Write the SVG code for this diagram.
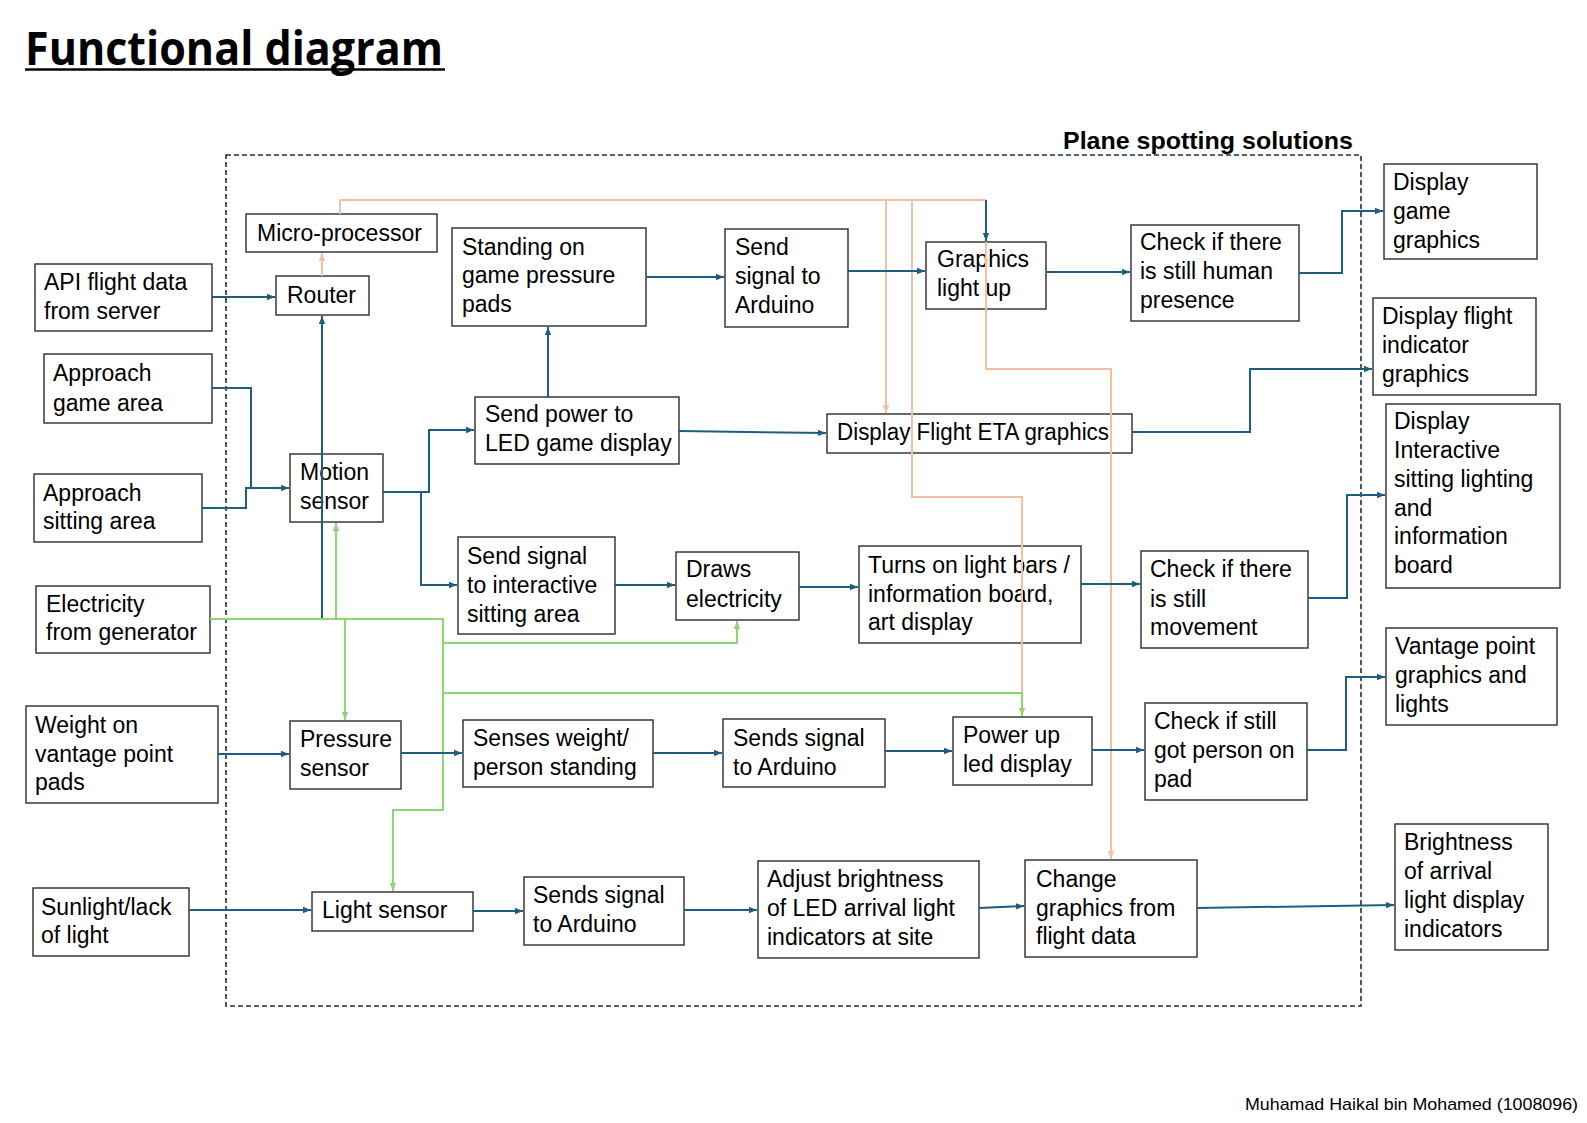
<svg xmlns="http://www.w3.org/2000/svg" width="1587" height="1123" viewBox="0 0 1587 1123">
<style>
.bg{fill:#ffffff}
.box{fill:#ffffff;stroke:#2b2b2b;stroke-width:1.4}
.t{font-family:"Liberation Sans",Arial,sans-serif;font-size:23px;fill:#000000}
.frame{fill:none;stroke:#16324a;stroke-width:1.6;stroke-dasharray:5 3}
.b{fill:none;stroke:#1d5e80;stroke-width:2}
.o{fill:none;stroke:#f5bfa3;stroke-width:2}
.g{fill:none;stroke:#8ed673;stroke-width:2}
.title{font-family:"Open Sans","Liberation Sans",sans-serif;font-weight:bold;font-size:46px;fill:#000}
.sub{font-family:"Liberation Sans",Arial,sans-serif;font-weight:bold;font-size:24px;fill:#000}
.foot{font-family:"Liberation Sans",Arial,sans-serif;font-size:17px;fill:#000}
</style>
<defs>
<marker id="ab" viewBox="0 0 10 10" refX="10" refY="5" markerUnits="userSpaceOnUse" markerWidth="9" markerHeight="8" orient="auto"><path d="M0,1 L10,5 L0,9 z" fill="#1d5e80"/></marker>
<marker id="ao" viewBox="0 0 10 10" refX="10" refY="5" markerUnits="userSpaceOnUse" markerWidth="9" markerHeight="8" orient="auto"><path d="M0,1 L10,5 L0,9 z" fill="#f5bfa3"/></marker>
<marker id="ag" viewBox="0 0 10 10" refX="10" refY="5" markerUnits="userSpaceOnUse" markerWidth="9" markerHeight="8" orient="auto"><path d="M0,1 L10,5 L0,9 z" fill="#8ed673"/></marker>
</defs>
<rect class="bg" x="0" y="0" width="1587" height="1123"/>

<g id="title">
<text class="title" x="25" y="65" textLength="418" lengthAdjust="spacingAndGlyphs">Functional diagram</text>
<line x1="25" y1="69.5" x2="445" y2="69.5" stroke="#000" stroke-width="2.5"/>
</g>

<g id="system-boundary">
<rect class="frame" x="226" y="155" width="1135" height="851"/>
<text class="sub" x="1063" y="149" textLength="290" lengthAdjust="spacingAndGlyphs">Plane spotting solutions</text>
</g>

<g id="nodes">
<g id="n-micro"><rect class="box" x="246" y="214" width="191" height="38"/><text class="t" x="257" y="241">Micro-processor</text></g>
<g id="n-router"><rect class="box" x="276" y="276" width="93" height="39"/><text class="t" x="287" y="303">Router</text></g>
<g id="n-api"><rect class="box" x="35" y="264" width="177" height="67"/><text class="t" x="44" y="290">API flight data</text><text class="t" x="44" y="319">from server</text></g>
<g id="n-game-area"><rect class="box" x="44" y="354" width="168" height="69"/><text class="t" x="53" y="381">Approach</text><text class="t" x="53" y="411">game area</text></g>
<g id="n-sitting-area"><rect class="box" x="34" y="474" width="168" height="68"/><text class="t" x="43" y="501">Approach</text><text class="t" x="43" y="529">sitting area</text></g>
<g id="n-electricity"><rect class="box" x="36" y="586" width="174" height="67"/><text class="t" x="46" y="612">Electricity</text><text class="t" x="46" y="640">from generator</text></g>
<g id="n-weight"><rect class="box" x="26" y="706" width="192" height="97"/><text class="t" x="35" y="733">Weight on</text><text class="t" x="35" y="762">vantage point</text><text class="t" x="35" y="790">pads</text></g>
<g id="n-sunlight"><rect class="box" x="33" y="888" width="156" height="68"/><text class="t" x="41" y="915">Sunlight/lack</text><text class="t" x="41" y="943">of light</text></g>
<g id="n-motion"><rect class="box" x="290" y="454" width="93" height="68"/><text class="t" x="300" y="480">Motion</text><text class="t" x="300" y="509">sensor</text></g>
<g id="n-pressure"><rect class="box" x="290" y="721" width="111" height="68"/><text class="t" x="300" y="747">Pressure</text><text class="t" x="300" y="776">sensor</text></g>
<g id="n-light"><rect class="box" x="312" y="892" width="161" height="39"/><text class="t" x="322" y="918">Light sensor</text></g>
<g id="n-standing"><rect class="box" x="452" y="228" width="194" height="98"/><text class="t" x="462" y="255">Standing on</text><text class="t" x="462" y="283">game pressure</text><text class="t" x="462" y="312">pads</text></g>
<g id="n-send-arduino-1"><rect class="box" x="725" y="229" width="123" height="98"/><text class="t" x="735" y="255">Send</text><text class="t" x="735" y="284">signal to</text><text class="t" x="735" y="313">Arduino</text></g>
<g id="n-send-power"><rect class="box" x="475" y="397" width="204" height="67"/><text class="t" x="485" y="422">Send power to</text><text class="t" x="485" y="451">LED game display</text></g>
<g id="n-graphics"><rect class="box" x="926" y="242" width="120" height="67"/><text class="t" x="937" y="267">Graphics</text><text class="t" x="937" y="296">light up</text></g>
<g id="n-check-human"><rect class="box" x="1131" y="225" width="168" height="96"/><text class="t" x="1140" y="250">Check if there</text><text class="t" x="1140" y="279">is still human</text><text class="t" x="1140" y="308">presence</text></g>
<g id="n-eta"><rect class="box" x="827" y="414" width="305" height="39"/><text class="t" x="837" y="440" textLength="272" lengthAdjust="spacingAndGlyphs">Display Flight ETA graphics</text></g>
<g id="n-send-interactive"><rect class="box" x="458" y="537" width="157" height="97"/><text class="t" x="467" y="564">Send signal</text><text class="t" x="467" y="593">to interactive</text><text class="t" x="467" y="622">sitting area</text></g>
<g id="n-draws"><rect class="box" x="676" y="552" width="123" height="68"/><text class="t" x="686" y="577">Draws</text><text class="t" x="686" y="607">electricity</text></g>
<g id="n-turns"><rect class="box" x="859" y="546" width="222" height="97"/><text class="t" x="868" y="573" textLength="202" lengthAdjust="spacingAndGlyphs">Turns on light bars /</text><text class="t" x="868" y="602">information board,</text><text class="t" x="868" y="630">art display</text></g>
<g id="n-check-movement"><rect class="box" x="1141" y="551" width="167" height="97"/><text class="t" x="1150" y="577">Check if there</text><text class="t" x="1150" y="607">is still</text><text class="t" x="1150" y="635">movement</text></g>
<g id="n-senses"><rect class="box" x="463" y="720" width="190" height="67"/><text class="t" x="473" y="746">Senses weight/</text><text class="t" x="473" y="775">person standing</text></g>
<g id="n-send-arduino-2"><rect class="box" x="723" y="719" width="162" height="68"/><text class="t" x="733" y="746">Sends signal</text><text class="t" x="733" y="775">to Arduino</text></g>
<g id="n-power-up"><rect class="box" x="953" y="717" width="139" height="68"/><text class="t" x="963" y="743">Power up</text><text class="t" x="963" y="772">led display</text></g>
<g id="n-check-person"><rect class="box" x="1145" y="703" width="162" height="97"/><text class="t" x="1154" y="729">Check if still</text><text class="t" x="1154" y="758">got person on</text><text class="t" x="1154" y="787">pad</text></g>
<g id="n-send-arduino-3"><rect class="box" x="524" y="877" width="160" height="68"/><text class="t" x="533" y="903">Sends signal</text><text class="t" x="533" y="932">to Arduino</text></g>
<g id="n-adjust"><rect class="box" x="758" y="861" width="221" height="97"/><text class="t" x="767" y="887">Adjust brightness</text><text class="t" x="767" y="916">of LED arrival light</text><text class="t" x="767" y="945">indicators at site</text></g>
<g id="n-change"><rect class="box" x="1025" y="860" width="172" height="97"/><text class="t" x="1036" y="887">Change</text><text class="t" x="1036" y="916">graphics from</text><text class="t" x="1036" y="944">flight data</text></g>
<g id="n-out-game"><rect class="box" x="1384" y="164" width="153" height="95"/><text class="t" x="1393" y="190">Display</text><text class="t" x="1393" y="219">game</text><text class="t" x="1393" y="248">graphics</text></g>
<g id="n-out-flight"><rect class="box" x="1373" y="298" width="163" height="97"/><text class="t" x="1382" y="324">Display flight</text><text class="t" x="1382" y="353">indicator</text><text class="t" x="1382" y="382">graphics</text></g>
<g id="n-out-interactive"><rect class="box" x="1386" y="404" width="174" height="184"/><text class="t" x="1394" y="429">Display</text><text class="t" x="1394" y="458">Interactive</text><text class="t" x="1394" y="487">sitting lighting</text><text class="t" x="1394" y="516">and</text><text class="t" x="1394" y="544">information</text><text class="t" x="1394" y="573">board</text></g>
<g id="n-out-vantage"><rect class="box" x="1386" y="628" width="171" height="97"/><text class="t" x="1395" y="654">Vantage point</text><text class="t" x="1395" y="683">graphics and</text><text class="t" x="1395" y="712">lights</text></g>
<g id="n-out-brightness"><rect class="box" x="1395" y="824" width="153" height="126"/><text class="t" x="1404" y="850">Brightness</text><text class="t" x="1404" y="879">of arrival</text><text class="t" x="1404" y="908">light display</text><text class="t" x="1404" y="937">indicators</text></g>
</g>

<g id="connectors">
<path class="o" d="M340 214 V200 H986"/>
<path class="o" d="M322 276 V253" marker-end="url(#ao)"/>
<path class="o" d="M886 200 V413" marker-end="url(#ao)"/>
<path class="o" d="M912 200 V497 H1022 V693"/>
<path class="o" d="M986 242 V369 H1111 V859" marker-end="url(#ao)"/>
<path class="g" d="M210 619 H443 V643 H737 V621" marker-end="url(#ag)"/>
<path class="g" d="M336 619 V523" marker-end="url(#ag)"/>
<path class="g" d="M345 619 V720" marker-end="url(#ag)"/>
<path class="g" d="M443 643 V810 H393 V891" marker-end="url(#ag)"/>
<path class="g" d="M443 693 H1022 V716" marker-end="url(#ag)"/>
<path class="b" d="M986 200 V241" marker-end="url(#ab)"/>
<path class="b" d="M322 618 V316" marker-end="url(#ab)"/>
<path class="b" d="M212 297 H275" marker-end="url(#ab)"/>
<path class="b" d="M212 388 H251 V488"/>
<path class="b" d="M202 508 H246 V488 H289" marker-end="url(#ab)"/>
<path class="b" d="M383 492 H429 V430 H474" marker-end="url(#ab)"/>
<path class="b" d="M421 492 V585 H457" marker-end="url(#ab)"/>
<path class="b" d="M646 277 H724" marker-end="url(#ab)"/>
<path class="b" d="M848 271 H925" marker-end="url(#ab)"/>
<path class="b" d="M1047 272 H1130" marker-end="url(#ab)"/>
<path class="b" d="M1299 273 H1342 V211 H1383" marker-end="url(#ab)"/>
<path class="b" d="M548 397 V327" marker-end="url(#ab)"/>
<path class="b" d="M679 431 L826 433" marker-end="url(#ab)"/>
<path class="b" d="M1132 432 H1250 V369 H1372" marker-end="url(#ab)"/>
<path class="b" d="M615 585 H675" marker-end="url(#ab)"/>
<path class="b" d="M799 587 H858" marker-end="url(#ab)"/>
<path class="b" d="M1081 584 H1140" marker-end="url(#ab)"/>
<path class="b" d="M1308 598 H1347 V495 H1385" marker-end="url(#ab)"/>
<path class="b" d="M218 754 H289" marker-end="url(#ab)"/>
<path class="b" d="M401 753 H462" marker-end="url(#ab)"/>
<path class="b" d="M653 753 H722" marker-end="url(#ab)"/>
<path class="b" d="M885 751 H952" marker-end="url(#ab)"/>
<path class="b" d="M1092 750 H1144" marker-end="url(#ab)"/>
<path class="b" d="M1307 750 H1346 V677 H1385" marker-end="url(#ab)"/>
<path class="b" d="M189 910 H311" marker-end="url(#ab)"/>
<path class="b" d="M473 911 H523" marker-end="url(#ab)"/>
<path class="b" d="M684 910 H757" marker-end="url(#ab)"/>
<path class="b" d="M979 908 L1024 906" marker-end="url(#ab)"/>
<path class="b" d="M1197 908 L1394 905" marker-end="url(#ab)"/>
</g>

<g id="footer">
<text class="foot" x="1245" y="1110" textLength="333" lengthAdjust="spacingAndGlyphs">Muhamad Haikal bin Mohamed (1008096)</text>
</g>
</svg>
